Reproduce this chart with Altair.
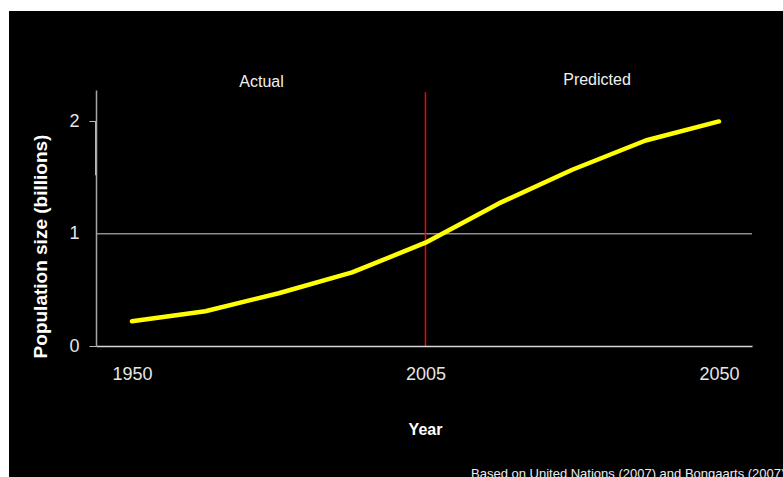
import altair as alt
import pandas as pd

# Projected population curve, 9 evenly spaced steps from 1950 to 2050
steps = [0, 1, 2, 3, 4, 5, 6, 7, 8]
population = [0.22, 0.31, 0.47, 0.655, 0.92, 1.27, 1.57, 1.83, 2.0]

tick_steps = [0, 4, 8]
tick_labels = ["1950", "2005", "2050"]
split_step = 4  # 2005: boundary between actual and predicted

W, H = 656, 256
PAD = {"left": 96, "top": 90, "right": 31, "bottom": 131}
FONT = "Liberation Sans"

df = pd.DataFrame({"step": steps, "pop": population})

label_expr = " : ".join(
    f"datum.value == {s} ? '{t}'" for s, t in zip(tick_steps, tick_labels)
) + " : ''"

x_scale = alt.Scale(domain=[-0.49, 8.45], nice=False, zero=False)
y_scale = alt.Scale(domain=[0, 2.28], nice=False)

x_axis = alt.Axis(
    values=tick_steps,
    labelExpr=label_expr,
    title="Year",
    titleFont=FONT,
    titleFontSize=16,
    titleFontWeight="bold",
    titleColor="#ffffff",
    titleX=329,
    titleY=88,
    titleBaseline="alphabetic",
    labelFont=FONT,
    labelFontSize=18,
    labelColor="#e6e6e6",
    labelPadding=19,
    ticks=False,
    tickSize=0,
    grid=False,
    domainColor="#d8d8d8",
    domainWidth=1.5,
    zindex=1,
)

y_axis = alt.Axis(
    values=[0, 1, 2],
    format="d",
    title="Population size (billions)",
    titleFont=FONT,
    titleFontSize=19,
    titleFontWeight="bold",
    titleColor="#ffffff",
    titleX=-46,
    titleY=156,
    titleAngle=270,
    titleBaseline="bottom",
    labelFont=FONT,
    labelFontSize=18,
    labelColor="#e6e6e6",
    labelPadding=10,
    tickSize=7,
    tickColor="#bdbdbd",
    tickOpacity={"condition": {"test": "datum.value == 1", "value": 0}, "value": 1},
    grid=False,
    domainColor="#a6a6a6",
    domainWidth=1.5,
    zindex=1,
)

one = pd.DataFrame({"k": [0]})

# dark slide panel behind everything
panel = alt.Chart(one).mark_rect(color="#000000").encode(
    x=alt.value(9 - PAD["left"]),
    x2=alt.value(W + PAD["right"]),
    y=alt.value(11 - PAD["top"]),
    y2=alt.value(H + PAD["bottom"]),
)

line = alt.Chart(df).mark_line(
    color="#ffff00", strokeWidth=4.5, strokeCap="round", strokeJoin="round"
).encode(
    x=alt.X("step:Q", scale=x_scale, axis=x_axis),
    y=alt.Y("pop:Q", scale=y_scale, axis=y_axis),
)

grid1 = alt.Chart(pd.DataFrame({"v": [1]})).mark_rule(
    color="#8c8c8c", strokeWidth=1.5
).encode(
    y=alt.Y("v:Q", scale=y_scale),
    x=alt.value(0),
    x2=alt.value(W),
)

divider = alt.Chart(pd.DataFrame({"s": [split_step]})).mark_rule(
    color="#ff0000", strokeWidth=1.5
).encode(
    x=alt.X("s:Q", scale=x_scale),
    y=alt.datum(2.26),
    y2=alt.datum(0),
)

axis_glint = alt.Chart(one).mark_rule(color="#ffffff", strokeWidth=1.5).encode(
    x=alt.value(0),
    y=alt.datum(2.0),
    y2=alt.datum(1.52),
)

actual_lbl = alt.Chart(one).mark_text(
    text="Actual", font=FONT, fontSize=16, color="#f0f0f0",
    align="center", baseline="alphabetic",
).encode(x=alt.value(165.5), y=alt.value(-3.5))

predicted_lbl = alt.Chart(one).mark_text(
    text="Predicted", font=FONT, fontSize=16, color="#f0f0f0",
    align="center", baseline="alphabetic",
).encode(x=alt.value(501), y=alt.value(-5))

source = alt.Chart(one).mark_text(
    text="Based on United Nations (2007) and Bongaarts (2007)",
    font=FONT, fontSize=13, color="#eeeeee", align="left", baseline="alphabetic",
).encode(
    x=alt.value(471 - PAD["left"]),
    y=alt.value(478 - PAD["top"]),
)

chart = alt.layer(
    panel, grid1, divider, line, axis_glint, actual_lbl, predicted_lbl, source
).properties(
    width=W,
    height=H,
    autosize=alt.AutoSizeParams(type="none"),
    padding=PAD,
    background="#ffffff",
).configure_view(
    stroke=None
)

chart.save("out.html", embed_options={"renderer": "svg", "actions": False})
